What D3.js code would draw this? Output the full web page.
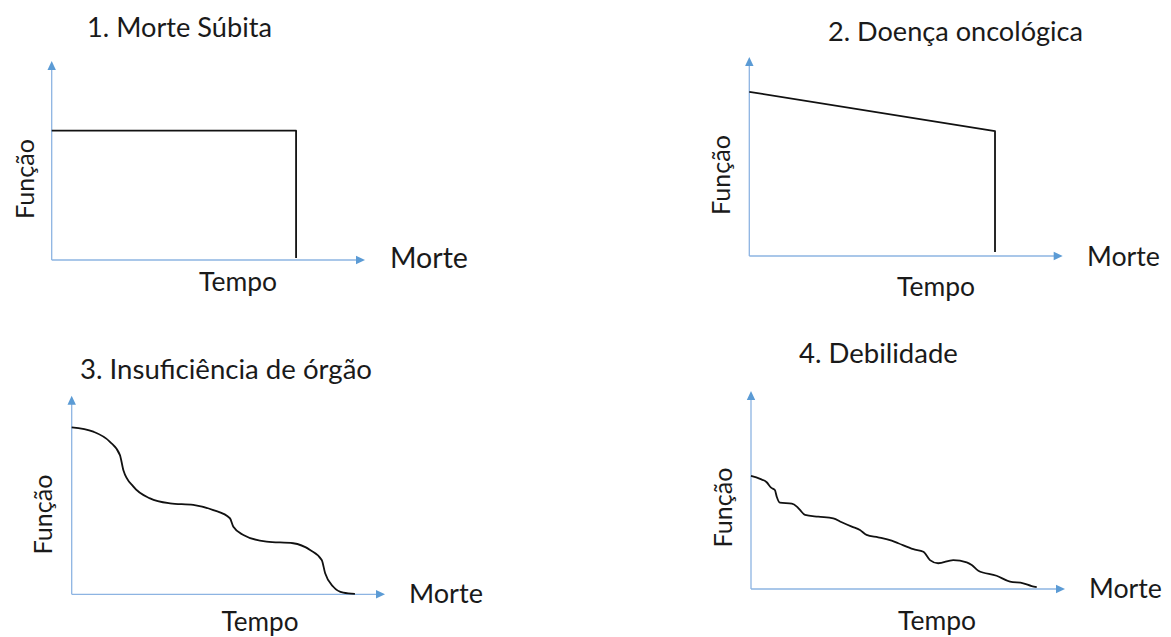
<!DOCTYPE html>
<html>
<head>
<meta charset="utf-8">
<script src="https://cdn.jsdelivr.net/npm/d3@7"></script>
<style>
  html, body { margin: 0; padding: 0; background: #ffffff; }
  svg { display: block; }
  text { font-family: Lato, "Open Sans", sans-serif; fill: #1a1a1a; }
</style>
</head>
<body>
<svg id="chart" width="1171" height="637"></svg>
<script>
// ---------- data ----------
const titles = ["1. Morte Súbita", "2. Doença oncológica", "3. Insuficiência de órgão", "4. Debilidade"];
const yAxisLabel = "Função";
const xAxisLabel = "Tempo";
const endLabel = "Morte";

// [tempo, função] on a 0..100 scale
const suddenDeath = [[0, 65], [78, 65], [78, 1]];
const cancer = [[0, 82.5], [78.4, 62.8], [78.4, 2]];
const organFailure = [
  [0, 84.1], [6.9, 81.9], [12.2, 76.8], [15.4, 70.1], [16.5, 62.5], [19.7, 54.2],
  [25.0, 48.3], [31.4, 45.8], [38.8, 45.0], [45.2, 42.4], [50.5, 38.3], [51.6, 34.0],
  [54.8, 29.9], [62.2, 26.5], [70.7, 25.7], [76.1, 22.3], [79.8, 17.3], [80.9, 10.6],
  [83.5, 3.8], [86.7, 0.8], [90.4, 0.2]
];
const frailty = [
  [0, 57.1], [2.9, 55.6], [5.0, 53.9], [6.4, 51.2], [7.6, 50.0], [8.2, 46.6],
  [9.2, 43.6], [13.0, 43.1], [14.6, 41.6], [15.6, 39.9], [17.2, 37.4], [21.4, 36.5],
  [26.2, 35.7], [28.9, 33.7], [32.1, 31.5], [34.7, 29.8], [36.8, 27.3], [40.5, 26.1],
  [44.8, 24.4], [46.9, 23.1], [51.7, 20.1], [54.9, 18.8], [57.0, 14.6], [59.6, 13.0],
  [64.4, 14.6], [68.7, 13.5], [70.3, 12.1], [72.4, 9.2], [78.2, 6.7], [82.5, 3.7],
  [86.7, 2.9], [89.4, 1.5], [91.0, 1.0]
];
const seriesList = [suddenDeath, cancer, organFailure, frailty];

// ---------- layout (pixels) ----------
const layout = [
  { ox: 51.7, oy: 260, xEnd: 365, yEnd: 61,
    title: { x: 87, y: 36.7, w: 185 }, fy: { x: 33.5, cy: 179, w: 80 },
    tempo: { cx: 238, y: 290.5, w: 78 }, morte: { x: 390, y: 268, w: 78 }, curve: d3.curveLinear },
  { ox: 749.3, oy: 256, xEnd: 1062.7, yEnd: 57,
    title: { x: 828, y: 41, w: 255 }, fy: { x: 730, cy: 175, w: 80 },
    tempo: { cx: 936, y: 296, w: 78 }, morte: { x: 1087, y: 266, w: 73 }, curve: d3.curveLinear },
  { ox: 71.7, oy: 594.3, xEnd: 385, yEnd: 395.7,
    title: { x: 80, y: 379.3, w: 292 }, fy: { x: 52, cy: 514.5, w: 80 },
    tempo: { cx: 260, y: 630.5, w: 77 }, morte: { x: 409, y: 603, w: 74 }, curve: d3.curveMonotoneX },
  { ox: 751, oy: 589, xEnd: 1065, yEnd: 391,
    title: { x: 799, y: 363.3, w: 159 }, fy: { x: 732, cy: 507.5, w: 80 },
    tempo: { cx: 937, y: 630, w: 78 }, morte: { x: 1089, y: 598, w: 73 }, curve: d3.curveMonotoneX }
];

const svg = d3.select("#chart");
const axisLineColor = "#8db4e2";
const arrowColor = "#5b9bd5";

function fit(sel, target) {
  const base = 26;
  sel.style("font-size", base + "px");
  const len = sel.node().getComputedTextLength();
  sel.style("font-size", (base * target / len) + "px");
  return sel;
}

layout.forEach((L, i) => {
  const x = d3.scaleLinear().domain([0, 100]).range([L.ox, L.xEnd]);
  const y = d3.scaleLinear().domain([0, 100]).range([L.oy, L.yEnd]);
  const g = svg.append("g");

  const arrowLen = 9, arrowHalf = 4.2;
  // x axis
  g.append("line")
    .attr("x1", x(0)).attr("y1", y(0))
    .attr("x2", x(100) - arrowLen + 1).attr("y2", y(0))
    .attr("stroke", axisLineColor).attr("stroke-width", 1.3);
  g.append("path")
    .attr("d", `M${x(100)},${y(0)} L${x(100) - arrowLen},${y(0) - arrowHalf} L${x(100) - arrowLen},${y(0) + arrowHalf} Z`)
    .attr("fill", arrowColor);
  // y axis
  g.append("line")
    .attr("x1", x(0)).attr("y1", y(0))
    .attr("x2", x(0)).attr("y2", y(100) + arrowLen - 1)
    .attr("stroke", axisLineColor).attr("stroke-width", 1.3);
  g.append("path")
    .attr("d", `M${x(0)},${y(100)} L${x(0) - arrowHalf},${y(100) + arrowLen} L${x(0) + arrowHalf},${y(100) + arrowLen} Z`)
    .attr("fill", arrowColor);

  // data line
  const line = d3.line().x(d => x(d[0])).y(d => y(d[1])).curve(L.curve);
  g.append("path")
    .datum(seriesList[i])
    .attr("d", line)
    .attr("fill", "none")
    .attr("stroke", "#111")
    .attr("stroke-width", 1.8)
    .attr("stroke-linejoin", "round");

  // texts
  fit(g.append("text").attr("x", L.title.x).attr("y", L.title.y).text(titles[i]), L.title.w);
  fit(g.append("text").attr("text-anchor", "middle")
      .attr("transform", `translate(${L.fy.x},${L.fy.cy}) rotate(-90)`)
      .text(yAxisLabel), L.fy.w);
  fit(g.append("text").attr("text-anchor", "middle").attr("x", L.tempo.cx).attr("y", L.tempo.y).text(xAxisLabel), L.tempo.w);
  fit(g.append("text").attr("x", L.morte.x).attr("y", L.morte.y).text(endLabel), L.morte.w);
});
</script>
</body>
</html>
